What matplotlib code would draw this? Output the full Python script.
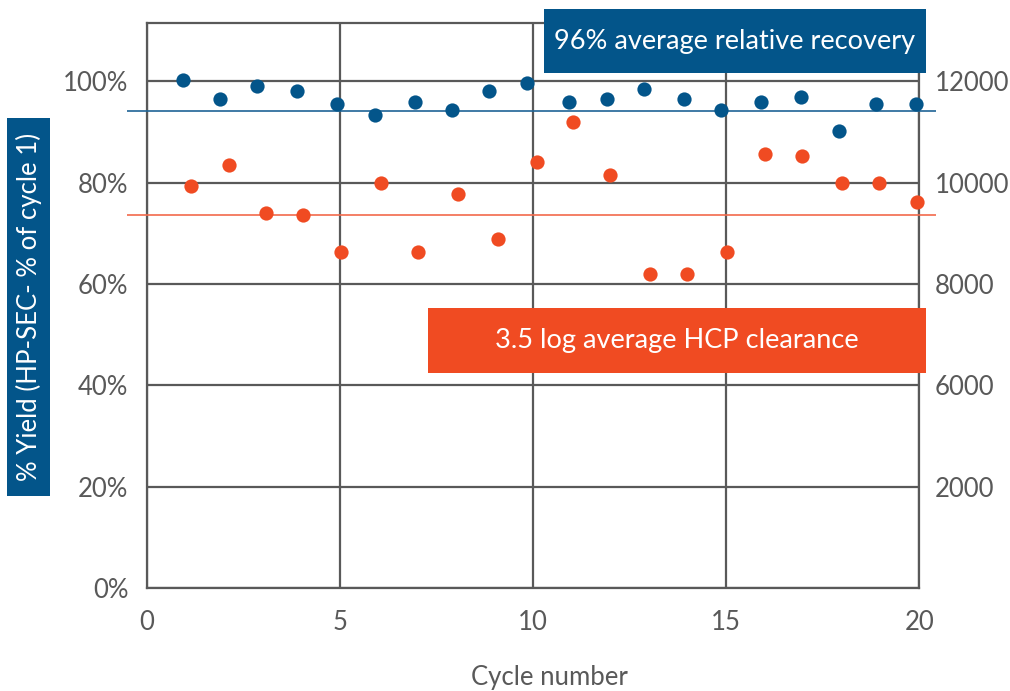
import matplotlib
matplotlib.use("Agg")
import matplotlib.pyplot as plt
from matplotlib.patches import Rectangle

# cycle positions (blue points sit a bit left of each cycle, orange a bit right)
cycle_yield = [0.94, 1.9, 2.87, 3.9, 4.94, 5.91, 6.94, 7.91, 8.87, 9.84,
               10.94, 11.91, 12.88, 13.91, 14.88, 15.91, 16.94, 17.91, 18.88, 19.91]
yield_pct = [100.3, 96.5, 99.1, 98.1, 95.5, 93.3, 96.0, 94.4, 98.1, 99.7,
             96.0, 96.5, 98.6, 96.5, 94.4, 96.0, 97.0, 90.2, 95.5, 95.5]

cycle_hcp = [1.16, 2.13, 3.09, 4.06, 5.03, 6.06, 7.03, 8.06, 9.1, 10.1,
             11.03, 12.0, 13.03, 14.0, 15.03, 16.0, 16.96, 18.0, 18.96, 19.93]
hcp_pct = [79.4, 83.6, 74.1, 73.6, 66.3, 79.9, 66.3, 77.8, 68.9, 84.1,
           92.0, 81.5, 62.0, 62.0, 66.3, 85.7, 85.2, 79.9, 79.9, 76.2]

avg_yield = 94.2
avg_hcp = 73.7

x_ticks = [0, 5, 10, 15, 20]
left_ticks = [0, 20, 40, 60, 80, 100]
left_labels = ["0%", "20%", "40%", "60%", "80%", "100%"]
right_ticks = [20, 40, 60, 80, 100]
right_labels = ["2000", "6000", "8000", "10000", "12000"]

BLUE = "#03558a"
ORANGE = "#f04b22"
GRAY = "#595959"
FONT = "Lato"

plt.rcParams['font.family'] = [FONT, 'DejaVu Sans']

W, H = 1010, 691
fig = plt.figure(figsize=(W / 100, H / 100), dpi=100)
ax = fig.add_axes([146.5 / W, (H - 588) / H, (919.3 - 146.5) / W, (588 - 22.7) / H])

ax.set_xlim(0, 20)
ax.set_ylim(0, 111.6)
ax.set_xticks(x_ticks)
ax.set_yticks(left_ticks)
ax.set_yticklabels(left_labels)
ax.grid(True, color=GRAY, linewidth=1.6)
ax.set_axisbelow(True)
for s in ax.spines.values():
    s.set_color(GRAY)
    s.set_linewidth(1.6)
ax.tick_params(length=0, labelsize=18.5, labelcolor=GRAY)
ax.tick_params(axis='y', pad=13)
ax.tick_params(axis='x', pad=16)

ax2 = ax.twinx()
ax2.set_ylim(0, 111.6)
ax2.set_yticks(right_ticks)
ax2.set_yticklabels(right_labels)
ax2.tick_params(length=0, labelsize=18.5, labelcolor=GRAY, pad=11)
for s in ax2.spines.values():
    s.set_visible(False)

# average lines run a little past the plot area
ax.hlines([avg_yield], -0.5, 20.43, color="#1f6496", linewidth=1.2, clip_on=False, zorder=3)
ax.hlines([avg_hcp], -0.5, 20.43, color="#f26a4c", linewidth=1.2, clip_on=False, zorder=3)

ax.scatter(cycle_yield, yield_pct, s=105, color=BLUE, zorder=4, clip_on=False, linewidths=0)
ax.scatter(cycle_hcp, hcp_pct, s=105, color=ORANGE, zorder=4, clip_on=False, linewidths=0)

fig.text(549 / W, 1 - 678 / H, "Cycle number", fontsize=18.5, color=GRAY,
         ha="center", va="center")


def box(x0, y0, x1, y1, color, text, rot=0, size=19.5):
    fig.add_artist(Rectangle((x0 / W, 1 - y1 / H), (x1 - x0) / W, (y1 - y0) / H,
                             transform=fig.transFigure, facecolor=color,
                             edgecolor="none", zorder=5))
    fig.text((x0 + x1) / 2 / W, 1 - (y0 + y1) / 2 / H, text, color="white",
             fontsize=size, ha="center", va="center", rotation=rot, zorder=6)


box(544, 9, 926, 73, BLUE, "96% average relative recovery")
box(428, 308, 926, 373, ORANGE, "3.5 log average HCP clearance")
box(7, 118, 50, 496, BLUE, "% Yield (HP-SEC- % of cycle 1)", rot=90, size=18.5)

fig.savefig("out.png", dpi=100)
